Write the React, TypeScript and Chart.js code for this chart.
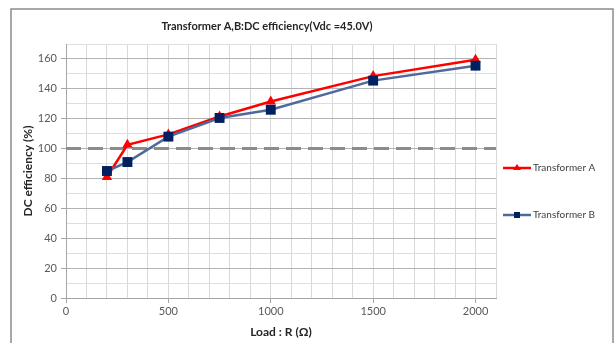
import React, { useEffect, useRef } from "react";
import { Chart, registerables } from "chart.js";

Chart.register(...registerables);

const loads = [200, 300, 500, 750, 1000, 1500, 2000];
const transformerA = [81, 102.5, 109.5, 121.5, 131.5, 148.5, 159.5];
const transformerB = [85, 91, 108, 120.5, 126, 145.5, 155.5];
const referenceLine = 100;
const chartTitle = "Transformer A,B:DC efficiency(Vdc =45.0V)";
const xTitle = "Load : R (Ω)";
const yTitle = "DC efficiency (%)";
const seriesNames = ["Transformer A", "Transformer B"];

const FONT = "Lato, 'Open Sans', sans-serif";

const decorPlugin = {
  id: "decor",
  beforeDraw(chart: any) {
    const ctx = chart.ctx;
    ctx.save();
    ctx.fillStyle = "#ffffff";
    ctx.fillRect(0, 0, chart.width, chart.height);
    ctx.strokeStyle = "#8c8c8c";
    ctx.lineWidth = 1.5;
    ctx.strokeRect(11, 9, 602, 345);
    ctx.restore();
  },
  afterDraw(chart: any) {
    const ctx = chart.ctx;
    ctx.save();
    // title
    ctx.fillStyle = "#262626";
    ctx.font = `bold 11px ${FONT}`;
    ctx.textAlign = "center";
    ctx.textBaseline = "middle";
    ctx.fillText(chartTitle, 267, 26);
    // legend
    const items = [
      { name: seriesNames[0], color: "#ff0000", line: "#ff0000", y: 168, shape: "tri" },
      { name: seriesNames[1], color: "#002060", line: "#4f6a9a", y: 215, shape: "rect" },
    ];
    items.forEach((it) => {
      ctx.strokeStyle = it.line;
      ctx.lineWidth = 2.5;
      ctx.beginPath();
      ctx.moveTo(503, it.y);
      ctx.lineTo(531, it.y);
      ctx.stroke();
      ctx.fillStyle = it.color;
      if (it.shape === "tri") {
        ctx.beginPath();
        ctx.moveTo(517, it.y - 4);
        ctx.lineTo(521, it.y + 2);
        ctx.lineTo(513, it.y + 2);
        ctx.closePath();
        ctx.fill();
      } else {
        ctx.fillRect(514, it.y - 3, 6, 6);
      }
      ctx.fillStyle = "#404040";
      ctx.font = `10px ${FONT}`;
      ctx.textAlign = "left";
      ctx.textBaseline = "middle";
      ctx.fillText(it.name, 533, it.y);
    });
    ctx.restore();
  },
};

export default function App() {
  const ref = useRef<HTMLCanvasElement | null>(null);
  useEffect(() => {
    if (!ref.current) return;
    const chart = new Chart(ref.current, {
      type: "line",
      data: {
        datasets: [
          {
            label: "Reference",
            data: [
              { x: 0, y: referenceLine },
              { x: 2100, y: referenceLine },
            ],
            borderColor: "#8c8c8c",
            borderWidth: 3,
            borderDash: [15, 7],
            pointRadius: 0,
            order: 3,
          },
          {
            label: seriesNames[0],
            data: loads.map((x, i) => ({ x, y: transformerA[i] })),
            borderColor: "#ff0000",
            backgroundColor: "#ff0000",
            borderWidth: 2.5,
            pointStyle: "triangle",
            pointRadius: 6,
            pointBorderWidth: 0,
            order: 2,
          },
          {
            label: seriesNames[1],
            data: loads.map((x, i) => ({ x, y: transformerB[i] })),
            borderColor: "#4f6a9a",
            backgroundColor: "#002060",
            pointBackgroundColor: "#002060",
            pointBorderColor: "#002060",
            borderWidth: 2.5,
            pointStyle: "rect",
            pointRadius: 7,
            pointBorderWidth: 0,
            order: 1,
          },
        ],
      },
      options: {
        responsive: false,
        animation: false,
        layout: { padding: { left: 12, top: 44, right: 119, bottom: 0 } },
        plugins: {
          legend: { display: false },
          title: { display: false },
          tooltip: { enabled: false },
        },
        scales: {
          x: {
            type: "linear",
            min: 0,
            max: 2100,
            afterFit(scale: any) {
              scale.height = 45;
            },
            ticks: {
              stepSize: 100,
              autoSkip: false,
              maxRotation: 0,
              color: "#595959",
              font: { family: FONT, size: 11 },
              padding: 2,
              callback: (v: any) => (Number(v) % 500 === 0 ? String(v) : ""),
            },
            grid: {
              color: "#d9d9d9",
              lineWidth: 1,
              tickLength: 5,
              tickColor: (c: any) =>
                c.tick && c.tick.value % 500 === 0 ? "#a6a6a6" : "rgba(0,0,0,0)",
            },
            border: { color: "#a6a6a6", width: 1 },
            title: {
              display: true,
              text: xTitle,
              color: "#262626",
              font: { family: FONT, size: 12, weight: "bold" },
              padding: { top: 0, bottom: 4 },
            },
          },
          y: {
            min: 0,
            max: 170,
            afterFit(scale: any) {
              scale.width = 54;
            },
            ticks: {
              stepSize: 10,
              autoSkip: false,
              color: "#595959",
              font: { family: FONT, size: 11 },
              padding: 4,
              callback: (v: any) => (Number(v) % 20 === 0 ? String(v) : ""),
            },
            grid: {
              color: (c: any) =>
                c.tick && c.tick.value % 20 === 0 ? "#b3b3b3" : "#dedede",
              lineWidth: 1,
              tickLength: 5,
              tickColor: (c: any) =>
                c.tick && c.tick.value % 20 === 0 ? "#a6a6a6" : "rgba(0,0,0,0)",
            },
            border: { color: "#a6a6a6", width: 1 },
            title: {
              display: true,
              text: yTitle,
              color: "#262626",
              font: { family: FONT, size: 12, weight: "bold" },
              padding: { top: 9, bottom: 2 },
            },
          },
        },
      },
      plugins: [decorPlugin],
    } as any);
    return () => chart.destroy();
  }, []);
  return (
    <div style={{ position: "fixed", left: 0, top: 0, width: 615, height: 343, background: "#fff" }}>
      <canvas ref={ref} width={615} height={343} style={{ width: 615, height: 343 }} />
    </div>
  );
}
